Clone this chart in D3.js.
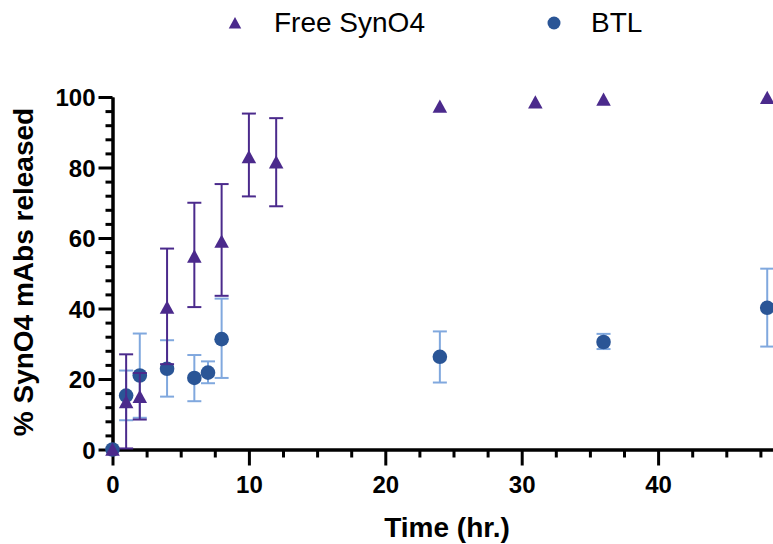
<!DOCTYPE html>
<html>
<head>
<meta charset="utf-8">
<script src="https://cdn.jsdelivr.net/npm/d3@7"></script>
<style>
  body { margin: 0; background: #fff; }
  svg { display: block; font-family: "Liberation Sans", Arial, Helvetica, sans-serif; }
</style>
</head>
<body>
<div id="chart"></div>
<script>
// Free SynO4 (triangles)
const freeTime  = [0, 1, 2, 4, 6, 8, 10, 12, 24, 31, 36, 48];
const freeMean  = [0, 13.5, 15, 40.3, 54.8, 59, 83, 81.5, 97.3, 98.5, 99.3, 99.8];
const freeLow   = [null, 0.3, 8.5, 24.2, 40.4, 43.6, 71.8, 69, null, null, null, null];
const freeHigh  = [null, 27, 21.7, 57, 70, 75.3, 95.3, 94, null, null, null, null];

// BTL (circles)
const btlTime = [0, 1, 2, 4, 6, 7, 8, 24, 36, 48];
const btlMean = [0, 15.3, 21, 22.9, 20.3, 21.8, 31.3, 26.3, 30.5, 40.2];
const btlLow  = [null, 8.3, 9, 15, 13.7, 18.8, 20.3, 19, 28.5, 29.2];
const btlHigh = [null, 22.4, 32.9, 31, 26.8, 25, 42.8, 33.5, 32.8, 51.3];

const xTicks = [0, 10, 20, 30, 40];
const yTicks = [0, 20, 40, 60, 80, 100];
const xTitle = "Time (hr.)";
const yTitle = "% SynO4 mAbs released";
const legendNames = ["Free SynO4", "BTL"];

const width = 773, height = 544;
const purple = "#4b2a8c", blue = "#2a5596", lightBlue = "#80a8de";

const svg = d3.select("#chart").append("svg")
    .attr("width", width)
    .attr("height", height);

const x = d3.scaleLinear().domain([0, 50]).range([112.5, 794.5]);
const y = d3.scaleLinear().domain([0, 100]).range([449.5, 97]);

// minor ticks
const xMinor = d3.range(0, 50.01, 2.5).filter(d => d % 10 !== 0);
const yMinor = d3.range(0, 100.01, 4).filter(d => d % 20 !== 0);

const xAxisG = svg.append("g")
    .attr("transform", `translate(0,${y(0)})`);
xAxisG.append("g")
    .call(d3.axisBottom(x).tickValues(xMinor).tickSize(8).tickSizeOuter(0).tickFormat(""));
xAxisG.append("g")
    .call(d3.axisBottom(x).tickValues(xTicks).tickSize(16).tickSizeOuter(0).tickPadding(10));

const yAxisG = svg.append("g")
    .attr("transform", `translate(${x(0)},0)`);
yAxisG.append("g")
    .call(d3.axisLeft(y).tickValues(yMinor).tickSize(7).tickSizeOuter(0).tickFormat(""));
yAxisG.append("g")
    .call(d3.axisLeft(y).tickValues(yTicks).tickSize(14).tickSizeOuter(0).tickPadding(3));

svg.selectAll(".domain").attr("stroke", "#000").attr("stroke-width", 3);
svg.selectAll(".tick line").attr("stroke", "#000").attr("stroke-width", 3);
svg.selectAll(".tick text")
    .attr("fill", "#000")
    .style("font-size", "24px")
    .style("font-weight", "bold")
    .style("font-family", "'Liberation Sans', Arial, sans-serif");
yAxisG.selectAll(".tick text").attr("dy", "0.36em");

// axis titles
svg.append("text")
    .attr("x", 447)
    .attr("y", 537)
    .attr("text-anchor", "middle")
    .style("font-size", "28px")
    .style("font-weight", "bold")
    .text(xTitle);

svg.append("text")
    .attr("transform", "translate(33,272) rotate(-90)")
    .attr("text-anchor", "middle")
    .style("font-size", "28px")
    .style("font-weight", "bold")
    .text(yTitle);

// series helpers
function errorBars(times, low, high, color) {
    const pts = times.map((t, i) => ({ t, lo: low[i], hi: high[i] }))
        .filter(d => d.lo != null);
    const g = svg.append("g")
        .attr("stroke", color)
        .attr("stroke-width", 2)
        .attr("fill", "none");
    g.selectAll("line.v").data(pts).enter().append("line")
        .attr("x1", d => x(d.t)).attr("x2", d => x(d.t))
        .attr("y1", d => y(d.lo)).attr("y2", d => y(d.hi));
    g.selectAll("line.lo").data(pts).enter().append("line")
        .attr("x1", d => x(d.t) - 7).attr("x2", d => x(d.t) + 7)
        .attr("y1", d => y(d.lo)).attr("y2", d => y(d.lo));
    g.selectAll("line.hi").data(pts).enter().append("line")
        .attr("x1", d => x(d.t) - 7).attr("x2", d => x(d.t) + 7)
        .attr("y1", d => y(d.hi)).attr("y2", d => y(d.hi));
}

const triPath = s => `M0,${-s * 0.5}L${s * 0.52},${s * 0.45}L${-s * 0.52},${s * 0.45}Z`;

// BTL
errorBars(btlTime, btlLow, btlHigh, lightBlue);
svg.append("g").selectAll("circle")
    .data(btlTime.map((t, i) => ({ t, v: btlMean[i] })))
    .enter().append("circle")
    .attr("cx", d => x(d.t))
    .attr("cy", d => y(d.v))
    .attr("r", 7.3)
    .attr("fill", blue);

// Free SynO4
errorBars(freeTime, freeLow, freeHigh, purple);
svg.append("g").selectAll("path")
    .data(freeTime.map((t, i) => ({ t, v: freeMean[i] })))
    .enter().append("path")
    .attr("transform", d => `translate(${x(d.t)},${y(d.v)})`)
    .attr("d", triPath(14))
    .attr("fill", purple);

// legend
const legend = svg.append("g");
legend.append("path")
    .attr("transform", "translate(235,23)")
    .attr("d", triPath(12))
    .attr("fill", purple);
legend.append("text")
    .attr("x", 274).attr("y", 32)
    .style("font-size", "28px")
    .text(legendNames[0]);
legend.append("circle")
    .attr("cx", 554).attr("cy", 23).attr("r", 6.5)
    .attr("fill", blue);
legend.append("text")
    .attr("x", 591).attr("y", 32)
    .style("font-size", "28px")
    .text(legendNames[1]);
</script>
</body>
</html>
